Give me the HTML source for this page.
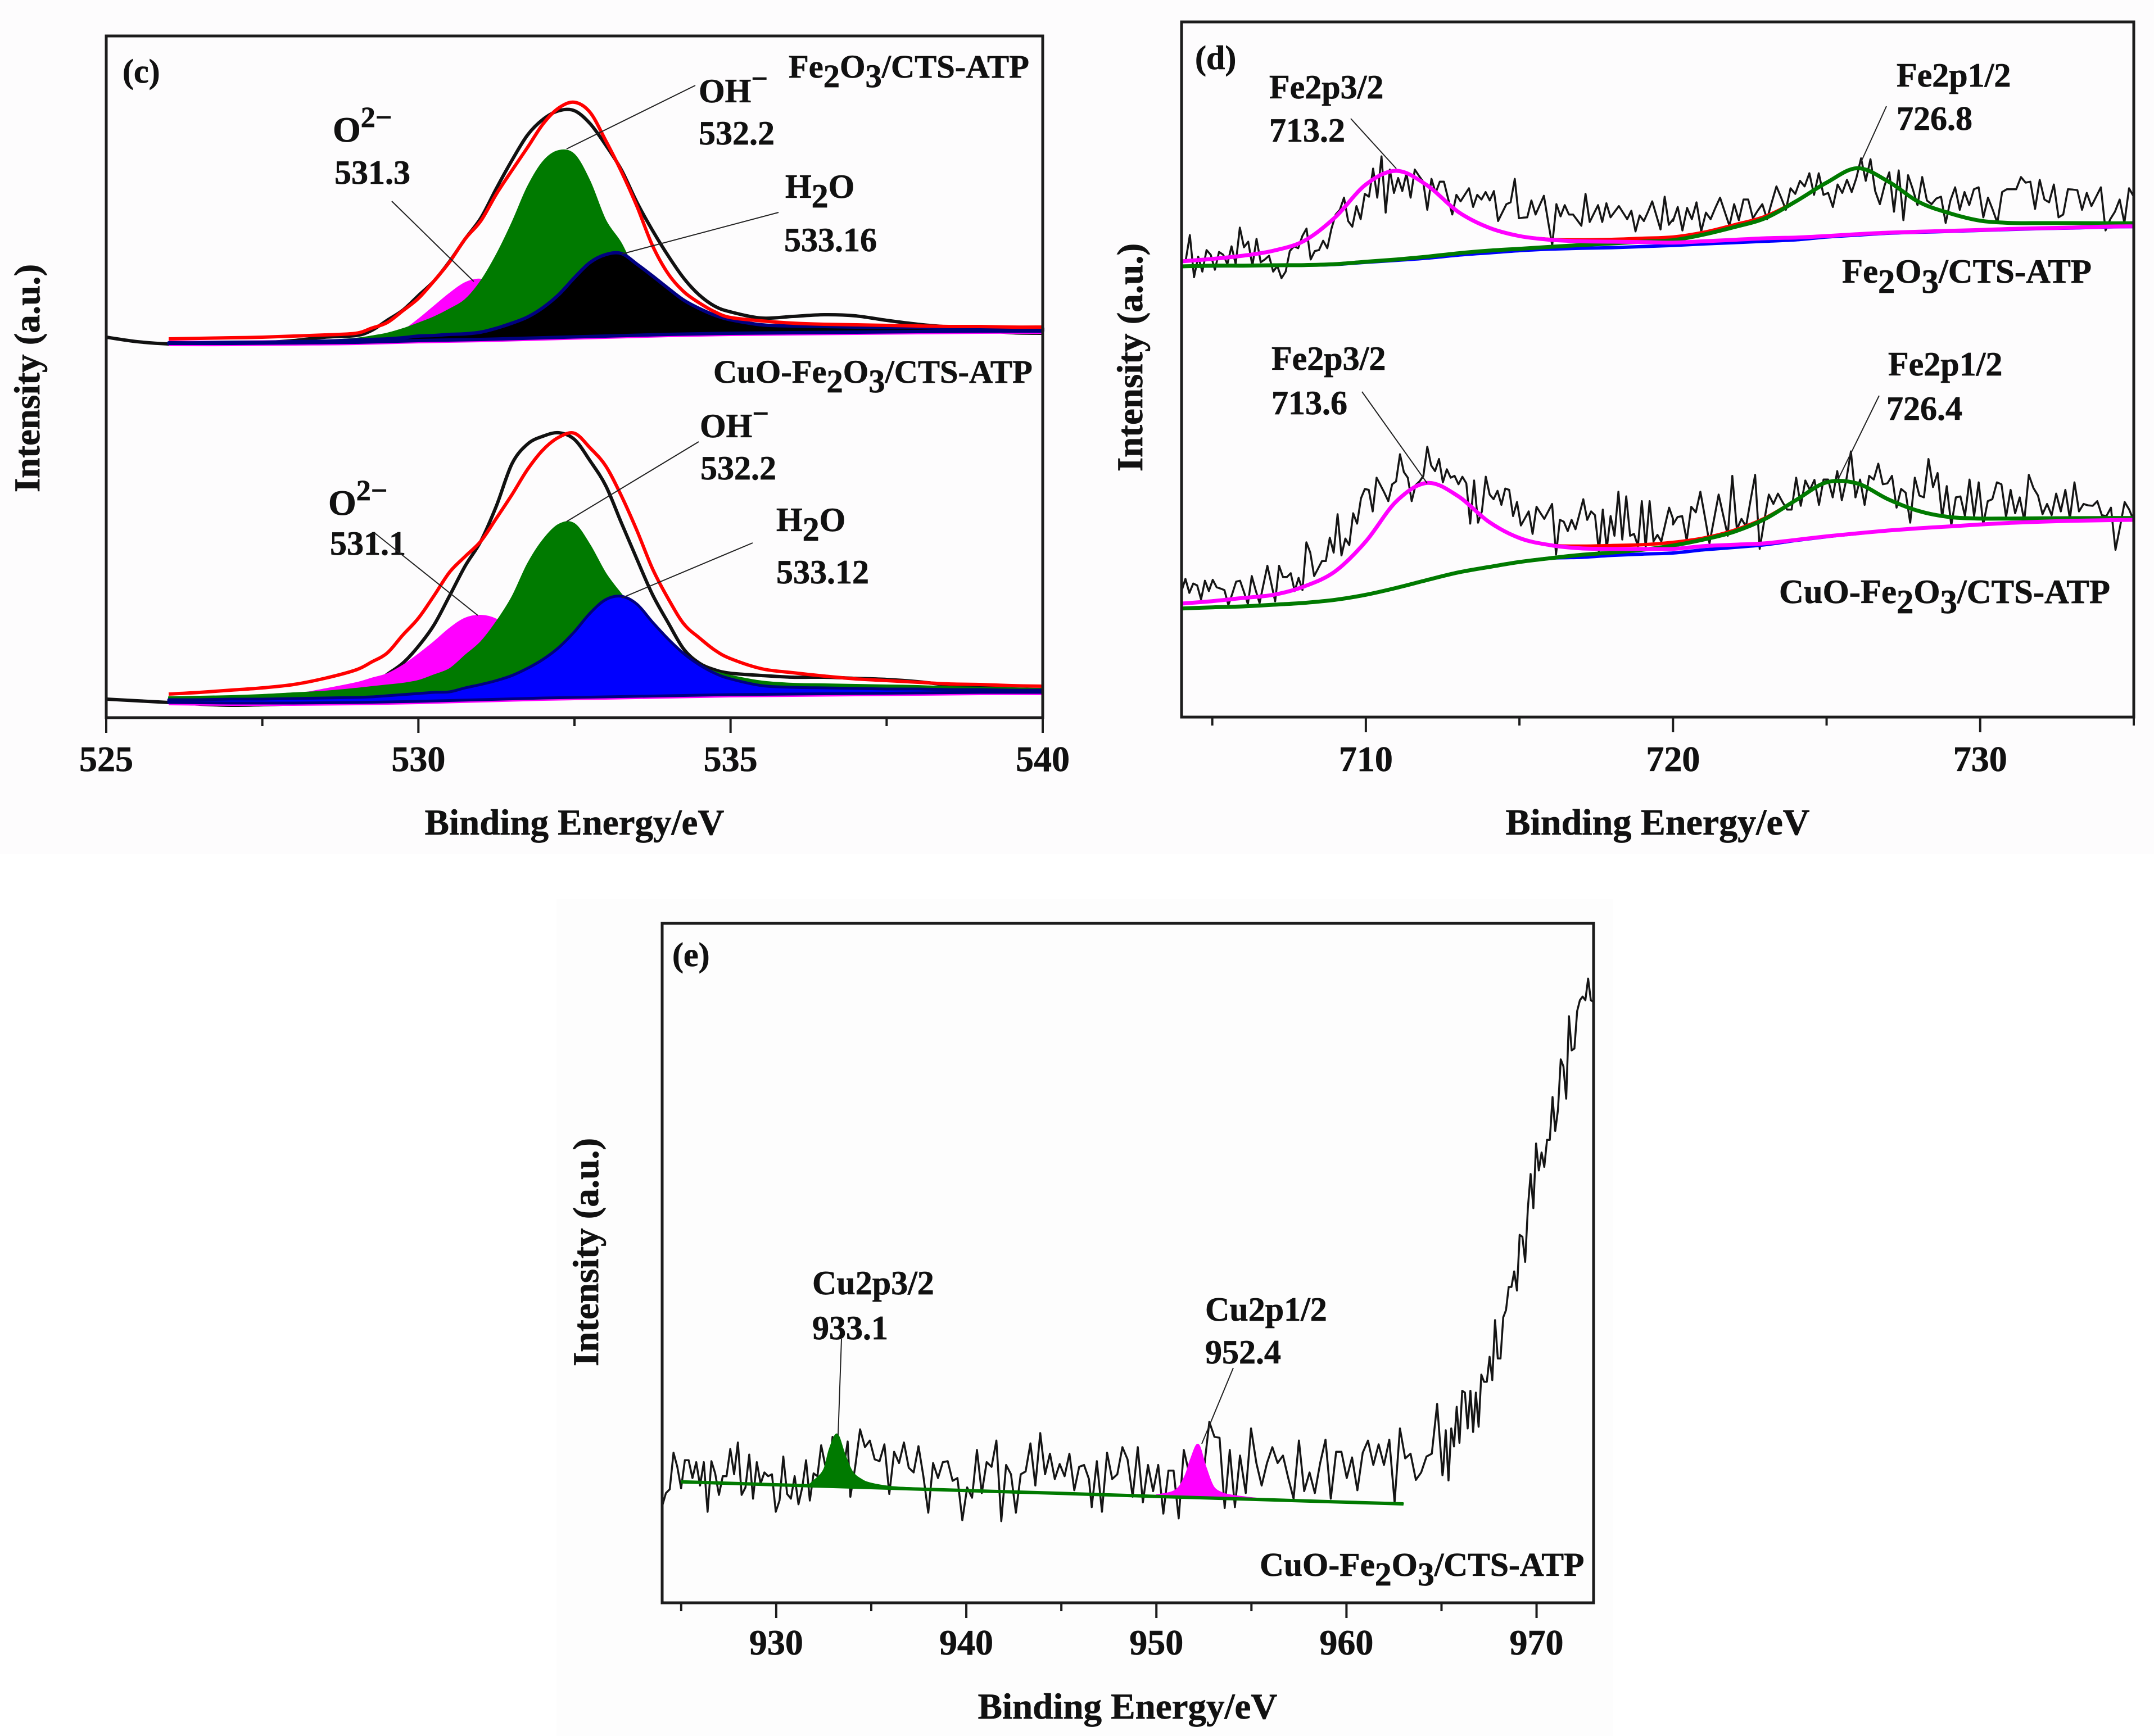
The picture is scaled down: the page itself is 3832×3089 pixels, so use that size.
<!DOCTYPE html>
<html lang="en">
<head>
<meta charset="utf-8">
<title>XPS spectra panels c, d and e</title>
<style>
html,body{margin:0;padding:0;background:#fff;}
svg{display:block;}
text{font-family:"Liberation Serif",serif;font-weight:bold;fill:#111;stroke:#111;stroke-width:0.7;}
.lbl{font-size:60px;}
.sam{font-size:58.5px;}
.sam-e{font-size:59.5px;}
.sam-d{font-size:60.7px;}
.tick{font-size:64px;text-anchor:middle;}
.ttl{font-size:65px;text-anchor:middle;}
.ttl-d{font-size:66px;text-anchor:middle;}
.yt{font-size:65px;text-anchor:middle;}
.oxy{font-size:64px;}
.sup{font-size:52px;}
.lead{stroke:#222;stroke-width:2;fill:none;}
</style>
</head>
<body>
<svg id="fig" xmlns="http://www.w3.org/2000/svg" width="3832" height="3089" viewBox="0 0 3832 3089">
  <rect x="0" y="0" width="3832" height="3089" fill="#ffffff"/>
  <rect x="0" y="0" width="3832" height="1520" fill="#fdfcfd"/>
  <rect x="990" y="1600" width="1880" height="1489" fill="#fdfdfd"/>
  <g id="marks"></g>

  <g>
    <text class="lbl" x="218" y="147">(c)</text>
    <text class="sam" x="1403" y="138">Fe<tspan dy="17">2</tspan><tspan dy="-17">O</tspan><tspan dy="17">3</tspan><tspan dy="-17">/CTS-ATP</tspan></text>
    <text class="sam" x="1269" y="681">CuO-Fe<tspan dy="17">2</tspan><tspan dy="-17">O</tspan><tspan dy="17">3</tspan><tspan dy="-17">/CTS-ATP</tspan></text>
    <text class="oxy" x="592" y="252">O<tspan class="sup" dy="-26">2−</tspan></text>
    <text class="lbl" x="595" y="327">531.3</text>
    <text class="lbl" x="1243" y="182">OH<tspan class="sup" dy="-25">−</tspan></text>
    <text class="lbl" x="1243" y="257">532.2</text>
    <text class="lbl" x="1397" y="352">H<tspan dy="17">2</tspan><tspan dy="-17">O</tspan></text>
    <text class="lbl" x="1395" y="447">533.16</text>
    <text class="oxy" x="584" y="916">O<tspan class="sup" dy="-26">2−</tspan></text>
    <text class="lbl" x="587" y="987">531.1</text>
    <text class="lbl" x="1245" y="778">OH<tspan class="sup" dy="-25">−</tspan></text>
    <text class="lbl" x="1246" y="853">532.2</text>
    <text class="lbl" x="1381" y="945">H<tspan dy="17">2</tspan><tspan dy="-17">O</tspan></text>
    <text class="lbl" x="1381" y="1038">533.12</text>
    <line class="lead" x1="1237" y1="152" x2="1008" y2="265"/>
    <line class="lead" x1="697" y1="358" x2="843" y2="501"/>
    <line class="lead" x1="1385" y1="378" x2="1106" y2="452"/>
    <line class="lead" x1="1243" y1="786" x2="1008" y2="928"/>
    <line class="lead" x1="666" y1="948" x2="850" y2="1095"/>
    <line class="lead" x1="1339" y1="966" x2="1106" y2="1064"/>
    <text class="ttl" x="1022" y="1485">Binding Energy/eV</text>
    <text class="yt" transform="translate(70 673) rotate(-90)">Intensity (a.u.)</text>
  </g>

  <g>
    <text class="lbl" x="2126" y="123">(d)</text>
    <text class="lbl" x="2258" y="175">Fe2p3/2</text>
    <text class="lbl" x="2258" y="252">713.2</text>
    <text class="lbl" x="3374" y="154">Fe2p1/2</text>
    <text class="lbl" x="3374" y="231">726.8</text>
    <text class="sam-d" x="3277" y="503">Fe<tspan dy="18">2</tspan><tspan dy="-18">O</tspan><tspan dy="18">3</tspan><tspan dy="-18">/CTS-ATP</tspan></text>
    <text class="lbl" x="2262" y="658">Fe2p3/2</text>
    <text class="lbl" x="2262" y="737">713.6</text>
    <text class="lbl" x="3359" y="668">Fe2p1/2</text>
    <text class="lbl" x="3356" y="747">726.4</text>
    <text class="sam-d" x="3165" y="1073">CuO-Fe<tspan dy="18">2</tspan><tspan dy="-18">O</tspan><tspan dy="18">3</tspan><tspan dy="-18">/CTS-ATP</tspan></text>
    <line class="lead" x1="2403" y1="211" x2="2484" y2="300"/>
    <line class="lead" x1="3356" y1="189" x2="3310" y2="290"/>
    <line class="lead" x1="2423" y1="697" x2="2539" y2="860"/>
    <line class="lead" x1="3343" y1="704" x2="3270" y2="853"/>
    <text class="ttl-d" x="2949" y="1485">Binding Energy/eV</text>
    <text class="yt" transform="translate(2032 636) rotate(-90)">Intensity (a.u.)</text>
  </g>

  <g>
    <text class="lbl" x="1196" y="1719">(e)</text>
    <text class="lbl" x="1445" y="2303">Cu2p3/2</text>
    <text class="lbl" x="1445" y="2383">933.1</text>
    <text class="lbl" x="2144" y="2350">Cu2p1/2</text>
    <text class="lbl" x="2144" y="2426">952.4</text>
    <text class="sam-e" x="2241" y="2804">CuO-Fe<tspan dy="17">2</tspan><tspan dy="-17">O</tspan><tspan dy="17">3</tspan><tspan dy="-17">/CTS-ATP</tspan></text>
    <line class="lead" x1="1497" y1="2383" x2="1491" y2="2554"/>
    <line class="lead" x1="2194" y1="2434" x2="2138" y2="2569"/>
    <text class="ttl" x="2006" y="3058">Binding Energy/eV</text>
    <text class="yt" transform="translate(1064 2228) rotate(-90)">Intensity (a.u.)</text>
  </g>
</svg>

<script>
// ---------- Panel (c) O1s data ----------
const cMajorTicks = [525, 530, 535, 540];
const cMinorTicks = [527.5, 532.5, 537.5];
const cEnergy = [526,526.5,527,527.5,528,528.5,529,529.25,529.5,529.75,530,530.25,530.5,530.75,531,531.25,531.5,531.75,532,532.25,532.5,532.75,533,533.25,533.5,533.75,534,534.25,534.5,534.75,535,535.5,536,536.5,537,537.5,538,538.5,539,539.5,540];
const cDataEnergy = [525,525.5,526,526.5,527,527.5,528,528.5,529,529.25,529.5,529.75,530,530.25,530.5,530.75,531,531.25,531.5,531.75,532,532.25,532.5,532.75,533,533.25,533.5,533.75,534,534.25,534.5,534.75,535,535.5,536,536.5,537,537.5,538,538.5,539,539.5,540];
const cBaseEnergy = [526,527,528,529,530,531,532,533,534,535,536,537,538,539,540];

const cTopData = [677,669,665,664,665,667,671,677,680,689,707,725,751,777,812,852,889,942,992,1037,1065,1080,1080,1057,1019,975,917,867,822,782,752,732,722,711,714,717,715,707,700,695,690,685,684];
const cTopEnvelope = [674,675,676,677,679,681,684,693,703,724,746,777,811,852,884,932,974,1015,1057,1085,1095,1077,1027,972,910,840,790,758,738,722,712,706,702,700,699,698,697,696,696,695,695];
const cTopO2 = [666,666,666,667,667,667,668,674,679,689,709,732,755,774,780,767,742,717,697,685,679,677,679,679,680,681,682,682,683,683,684,685,685,686,686,687,687,688,688,688,688];
const cTopOH = [667,667,668,668,669,671,675,679,684,692,702,713,727,744,777,824,881,945,990,1009,1002,954,885,844,787,747,722,707,699,695,692,690,689,689,689,689,689,689,690,690,690];
const cTopH2O = [667,667,668,668,669,670,672,673,674,676,679,680,682,683,686,693,702,713,730,753,783,810,824,826,807,786,764,743,728,716,708,699,697,696,695,694,694,693,693,693,693];
const cTopBase = [666,666,667,668,671,673,676,679,682,684,685,686,687,688,688];

const cBotData = [33,30,27,24,22,23,25,32,42,57,77,97,127,165,217,270,314,377,452,487,501,507,495,457,413,347,282,219,169,122,97,85,79,75,72,72,70,68,64,58,54,51,49];
const cBotEnvelope = [42,45,49,53,59,70,85,99,115,147,177,217,259,287,314,355,397,442,477,499,506,480,448,395,333,265,212,167,142,120,105,87,80,74,69,66,63,60,59,57,56];
const cBotO2 = [30,31,32,35,41,51,62,70,78,93,113,135,159,177,182,175,154,127,107,87,72,62,55,50,47,45,44,43,43,43,43,43,44,44,45,45,45,46,46,46,46];
const cBotOH = [37,38,39,41,44,47,52,55,58,61,66,76,87,111,135,171,215,274,317,344,345,307,257,220,187,157,127,107,92,82,75,65,61,60,59,58,57,55,54,53,52];
const cBotH2O = [32,32,33,33,34,35,36,37,39,41,43,45,46,53,59,66,75,88,104,125,153,186,210,216,202,170,140,114,94,79,69,57,54,53,52,51,51,50,50,49,49];
const cBotBase = [27,26,26,27,29,32,35,37,39,41,42,43,44,45,45];

// ---------- Panel (d) Fe2p data ----------
const dMajorTicks = [710, 720, 730];
const dMinorTicks = [705, 715, 725, 735];
const dFitEnergy = [704,705,706,707,708,709,710,711,712,713,714,715,716,717,718,719,720,721,722,723,724,725,726,727,728,729,730,731,732,733,734,735];

const dTopLow = [2428,2438,2573,2348,2458,2378,2493,2468,2388,2483,2468,2418,2513,2418,2613,2508,2538,2408,2553,2428,2443,2463,2378,2408,2343,2378,2488,2513,2503,2568,2608,2443,2488,2493,2543,2503,2608,2683,2708,2773,2648,2618,2728,2658,2793,2778,2928,2773,2993,2693,2923,2798,2878,2808,2903,2773,2923,2890,2858,2708,2873,2798,2858,2858,2768,2683,2788,2753,2788,2823,2723,2788,2763,2803,2758,2808,2648,2693,2738,2748,2873,2663,2666,2668,2758,2683,2733,2783,2648,2518,2738,2673,2733,2683,2683,2653,2623,2793,2643,2688,2733,2643,2743,2668,2698,2728,2693,2658,2703,2593,2678,2648,2698,2753,2678,2603,2778,2628,2658];
const dTopHigh = [2648,2723,2598,2718,2658,2748,2593,2693,2658,2718,2773,2698,2623,2738,2653,2763,2763,2663,2703,2738,2658,2748,2833,2773,2708,2823,2793,2863,2833,2903,2788,2903,2788,2798,2723,2843,2798,2868,2803,2878,2983,2863,2978,2808,2738,2838,2908,2698,2918,2653,2893,2818,2733,2883,2758,2738,2768,2778,2638,2758,2828,2708,2803,2733,2818,2828,2668,2773,2708,2638,2803,2818,2818,2818,2883,2853,2858,2713,2868,2763,2748,2843,2668,2683,2818,2816,2813,2708,2798,2728,2778,2828,2598,2658,2698,2763,2638,2823,2778];
const dTopEnvelope = [2433,2446,2463,2490,2543,2668,2843,2916,2838,2698,2613,2568,2550,2548,2550,2556,2563,2588,2628,2673,2753,2853,2930,2860,2750,2690,2650,2638,2637,2637,2636,2636];
const dTopBackground = [2406,2408,2410,2412,2413,2416,2428,2438,2450,2466,2478,2490,2498,2503,2506,2512,2518,2526,2533,2540,2548,2563,2573,2583,2588,2593,2598,2603,2608,2611,2616,2618];
const dTopFe32 = [2433,2446,2463,2490,2543,2668,2843,2916,2838,2698,2613,2568,2548,2540,2538,2536,2533,2540,2548,2556,2560,2568,2578,2586,2591,2596,2600,2606,2610,2613,2618,2620];
const dTopFe12 = [2406,2410,2410,2412,2413,2418,2431,2443,2458,2476,2490,2500,2510,2520,2528,2538,2546,2576,2616,2663,2753,2853,2930,2860,2750,2690,2650,2638,2637,2637,2636,2636];

const dBotLow = [673,738,663,713,703,628,728,673,733,693,686,678,598,658,723,728,668,603,753,678,608,708,808,713,618,808,748,748,768,673,743,678,933,878,753,793,833,833,958,878,1083,863,953,918,1088,1033,1168,1218,1213,1098,1278,1238,1198,1153,1243,1258,1403,1308,1278,1153,1238,1258,1288,1443,1343,1313,1378,1253,1323,1278,1288,1243,1283,1248,1033,1263,1038,1098,1283,1188,1163,1208,1133,1220,1213,1073,1148,1023,1060,1098,978,1123,1090,1058,1098,1138,868,1053,1043,993,1053,1003,1083,1163,1053,1098,1078,883,1108,898,1073,968,1203,948,1178,968,978,913,1153,908,1153,938,973,938,1028,1118,1058];
const dBotHigh = [1028,1068,1073,943,1123,1093,1203,1068,928,1058,1188,1078,968,1288,1003,1058,1018,1158,1293,898,1048,1188,1138,1193,1148,1108,1108,1278,1128,1263,1213,1266,1133,1268,1268,1173,1313,1158,1268,1418,1173,1268,1133,1288,1268,1353,1243,1248,1288,1118,1218,1198,1038,1278,1183,1173,1378,1228,1303,1068,1233,1023,1173,1178,1073,1268,1073,1253,1028,1153,1163,1253,1243,1068,1213,1088,1173,1048,1293,1223,1183,1083,1138,1078,1193,1098,1213,1058,1253,1098,1138,1130,1128,1153,1078,1073,1118,893,1018,1148,1108,1048];
const dBotEnvelope = [606,619,636,653,698,778,938,1153,1250,1180,1043,956,918,913,916,920,933,956,998,1063,1158,1253,1247,1163,1100,1068,1060,1060,1061,1062,1063,1063];
const dBotBackground = [580,586,591,600,610,626,653,690,732,772,801,828,848,853,863,870,876,893,906,920,943,963,980,996,1008,1018,1028,1037,1043,1048,1051,1053];
const dBotFe32 = [606,619,636,653,698,778,938,1153,1250,1180,1043,956,918,901,898,898,898,913,920,928,946,965,981,996,1008,1018,1028,1037,1043,1048,1051,1053];
const dBotFe12 = [580,586,591,600,610,626,653,690,732,772,801,828,848,866,878,893,916,948,990,1058,1158,1253,1247,1163,1100,1068,1060,1060,1061,1062,1063,1063];

// ---------- Panel (e) Cu2p data ----------
const eMajorTicks = [930, 940, 950, 960, 970];
const eMinorTicks = [925, 935, 945, 955, 965];
const eTraceA = [516,586,606,801,726,611,761,761,666,751,626,751,486,756,691,576,676,676,821,686,856,576,616,791,556,751,636,696,676,686,486,546,781,581,556,676,526,616,761,546,691,676,841,741,666,886,786,706,726,861];
const eTraceB = [566,726,926,831,866,766,756,846,581,806,746,856,721,696,836,676,481,746,666,751,756,651,666,441,616,561,816,586,751,726,866,436,736,686,481,686,701,851,626,906,686,796,661,741,676,796,601,726,736,661];
const eTraceC = [511,756,486,801,661,686,831,766,566,831,536,736,596,736,476,706,706,451,816,696,686,686,726,966,886,881,506,816,511,786];
const eTraceD = [586,931,746,626,746,831,746,786,666,556,866,596,696,586,746,871,556,806,806,666,776,601,801,866,736,846,736,871,536,931,771,796,656,696,781,796,1061,681];
const eTraceE = [701,921,653,931,835,1046,854,1132,1122,931,1132,912,1122,940,1218,1180,1180,1313,1189,1509,1304,1304,1524,1562,1686,1686,1769,1667,1964,1954,1820,2107,2289,2107,2452,2308,2404,2327,2471,2471,2700,2519,2633,2901,2863,2691,3131,2949,2959,3159,3217,3236,3217,3332,3217,3207];
const eBaseEnergy = [925,930,935,940,945,950,955,960,963];
const eBase = [646,630,615,599,584,568,553,537,528];
const eCuP32Energy = [925,930,931.5,932,932.5,932.8,933.2,933.6,934,934.5,935,936,937,938,940,945,950,955,960,963];
const eCuP32 = [646,630,626,655,711,821,901,796,701,658,638,621,614,611,599,584,568,553,537,528];
const eCuP12Energy = [950,951,951.5,951.8,952.2,952.6,953,953.5,954,955,956];
const eCuP12 = [576,601,676,766,846,726,621,586,574,561,551];

// ---------- Axis functions ----------
function linear(d0, d1, r0, r1) { return v => r0 + (v - d0) * (r1 - r0) / (d1 - d0); }
const xC = linear(525, 540, 189, 1855);
const yC = linear(0, 1213, 1277, 64);
const xD = linear(704, 735, 2102, 3796);
const yD = linear(0, 3711, 1276, 39);
const xE = linear(924, 973, 1178, 2835);
const yE = linear(0, 3627, 2852, 1643);

const NS = 'http://www.w3.org/2000/svg';
const root = document.getElementById('marks');

function add(tag, parent, name, attrs) {
  const el = document.createElementNS(NS, tag);
  for (const k in attrs) el.setAttribute(k, attrs[k]);
  
  
  parent.appendChild(el);
  return el;
}

function pts(xs, ys, sx, sy) { return xs.map((x, i) => [sx(x), sy(ys[i])]); }

function linePath(p) { return 'M' + p.map(q => q[0].toFixed(1) + ' ' + q[1].toFixed(1)).join('L'); }

function smoothPath(p, skipMove) {
  let d = skipMove ? '' : 'M' + p[0][0].toFixed(1) + ' ' + p[0][1].toFixed(1);
  for (let i = 0; i < p.length - 1; i++) {
    const a = p[Math.max(i - 1, 0)], b = p[i], c = p[i + 1], e = p[Math.min(i + 2, p.length - 1)];
    const t = 1 / 6;
    d += 'C' + (b[0] + (c[0] - a[0]) * t).toFixed(1) + ' ' + (b[1] + (c[1] - a[1]) * t).toFixed(1) + ' ' +
         (c[0] - (e[0] - b[0]) * t).toFixed(1) + ' ' + (c[1] - (e[1] - b[1]) * t).toFixed(1) + ' ' +
         c[0].toFixed(1) + ' ' + c[1].toFixed(1);
  }
  return d;
}

function interp(xs, ys, x) {
  if (x <= xs[0]) return ys[0];
  for (let i = 1; i < xs.length; i++) {
    if (x <= xs[i]) return ys[i - 1] + (ys[i] - ys[i - 1]) * (x - xs[i - 1]) / (xs[i] - xs[i - 1]);
  }
  return ys[ys.length - 1];
}

function drawCurve(g, name, xs, ys, sx, sy, color, width) {
  add('path', g, name, { d: smoothPath(pts(xs, ys, sx, sy)), fill: 'none', stroke: color, 'stroke-width': width, 'stroke-linejoin': 'round', 'stroke-linecap': 'butt' });
}

function drawPeak(g, name, xs, ys, bx, by, sx, sy, fill, stroke, sw) {
  const top = smoothPath(pts(xs, ys, sx, sy));
  const lo = xs[0], hi = xs[xs.length - 1];
  const inner = bx.filter(v => v > lo && v < hi).reverse();
  const back = [hi].concat(inner, [lo]).map(v => [sx(v), sy(interp(bx, by, v))]);
  const d = top + 'L' + back.map(q => q[0].toFixed(1) + ' ' + q[1].toFixed(1)).join('L') + 'Z';
  add('path', g, name, { d: d, fill: fill, stroke: stroke, 'stroke-width': sw, 'stroke-linejoin': 'round' });
}

function drawTrace(g, name, segments, sx, sy, width) {
  const p = [];
  segments.forEach(s => {
    const n = s.values.length;
    s.values.forEach((v, i) => {
      const e = s.from + (s.to - s.from) * i / (n - 1);
      p.push([sx(e), sy(v)]);
    });
  });
  add('path', g, name, { d: linePath(p), fill: 'none', stroke: '#151515', 'stroke-width': width, 'stroke-linejoin': 'round' });
}

function drawAxes(g, prefix, box, sx, majors, minors, labelY) {
  add('rect', g, prefix + '-frame', { x: box.l, y: box.t, width: box.r - box.l, height: box.b - box.t, fill: 'none', stroke: '#1c1c1c', 'stroke-width': 5 });
  majors.forEach(v => {
    add('line', g, prefix + '-major-tick', { x1: sx(v), x2: sx(v), y1: box.b, y2: box.b + 27, stroke: '#1c1c1c', 'stroke-width': 4 });
    const t = add('text', g, prefix + '-tick-label', { x: sx(v), y: labelY, class: 'tick' });
    t.textContent = String(v);
  });
  minors.forEach(v => {
    add('line', g, prefix + '-minor-tick', { x1: sx(v), x2: sx(v), y1: box.b, y2: box.b + 15, stroke: '#1c1c1c', 'stroke-width': 4 });
  });
}

// ---------- Panel (c) ----------
const gC = add('g', root, 'panel-c-o1s', {});
function drawCStack(label, data, env, o2, oh, h2o, base, h2oFill, outlineWidth) {
  const g = add('g', gC, label + '-spectrum', {});
  drawCurve(g, label + '-measured-curve', cDataEnergy, data, xC, yC, '#111', 6);
  drawCurve(g, label + '-baseline-magenta', cBaseEnergy, base, xC, yC, '#ff00ff', 10);
  drawPeak(g, label + '-o2-peak', cEnergy, o2, cBaseEnergy, base, xC, yC, '#ff00ff', '#ff00ff', 2);
  drawPeak(g, label + '-oh-peak', cEnergy, oh, cBaseEnergy, base, xC, yC, '#007a00', '#007a00', 2);
  drawPeak(g, label + '-h2o-peak', cEnergy, h2o, cBaseEnergy, base, xC, yC, h2oFill, '#000080', outlineWidth);
  drawCurve(g, label + '-envelope-curve', cEnergy, env, xC, yC, '#ff0000', 6);
}
drawCStack('top', cTopData, cTopEnvelope, cTopO2, cTopOH, cTopH2O, cTopBase, '#000000', 6);
drawCStack('bottom', cBotData, cBotEnvelope, cBotO2, cBotOH, cBotH2O, cBotBase, '#0000ff', 5);
drawAxes(gC, 'panel-c', { l: 189, r: 1855, t: 64, b: 1277 }, xC, cMajorTicks, cMinorTicks, 1372);

// ---------- Panel (d) ----------
const gD = add('g', root, 'panel-d-fe2p', {});
function drawDStack(label, low, high, env, bg, p32, p12) {
  const g = add('g', gD, label + '-fe-spectrum', {});
  drawTrace(g, label + '-fe-measured-trace', [{ from: 704, to: 720, values: low }, { from: 720, to: 735, values: high }], xD, yD, 3.5);
  drawCurve(g, label + '-fe-envelope', dFitEnergy, env, xD, yD, '#ff0000', 6);
  drawCurve(g, label + '-fe-background', dFitEnergy, bg, xD, yD, '#0000ff', 6);
  drawCurve(g, label + '-fe2p12-fit', dFitEnergy, p12, xD, yD, '#007a00', 7);
  drawCurve(g, label + '-fe2p32-fit', dFitEnergy, p32, xD, yD, '#ff00ff', 7);
}
drawDStack('top', dTopLow, dTopHigh, dTopEnvelope, dTopBackground, dTopFe32, dTopFe12);
drawDStack('bottom', dBotLow, dBotHigh, dBotEnvelope, dBotBackground, dBotFe32, dBotFe12);
drawAxes(gD, 'panel-d', { l: 2102, r: 3796, t: 39, b: 1276 }, xD, dMajorTicks, dMinorTicks, 1372);

// ---------- Panel (e) ----------
const gE = add('g', root, 'panel-e-cu2p', {});
drawTrace(gE, 'cu-measured-trace', [
  { from: 924, to: 933.76, values: eTraceA },
  { from: 933.9, to: 946.45, values: eTraceB },
  { from: 946.6, to: 954.4, values: eTraceC },
  { from: 954.7, to: 965.05, values: eTraceD },
  { from: 965.08, to: 973, values: eTraceE }
], xE, yE, 3.5);
drawPeak(gE, 'cu2p12-peak', eCuP12Energy, eCuP12, eBaseEnergy, eBase, xE, yE, '#ff00ff', '#ff00ff', 2);
drawPeak(gE, 'cu2p32-peak', eCuP32Energy, eCuP32, eBaseEnergy, eBase, xE, yE, '#007a00', '#007a00', 2);
add('path', gE, 'cu-background-line', { d: linePath(pts(eBaseEnergy, eBase, xE, yE)), fill: 'none', stroke: '#007a00', 'stroke-width': 6 });
drawAxes(gE, 'panel-e', { l: 1178, r: 2835, t: 1643, b: 2852 }, xE, eMajorTicks, eMinorTicks, 2944);
</script>
</body>
</html>
